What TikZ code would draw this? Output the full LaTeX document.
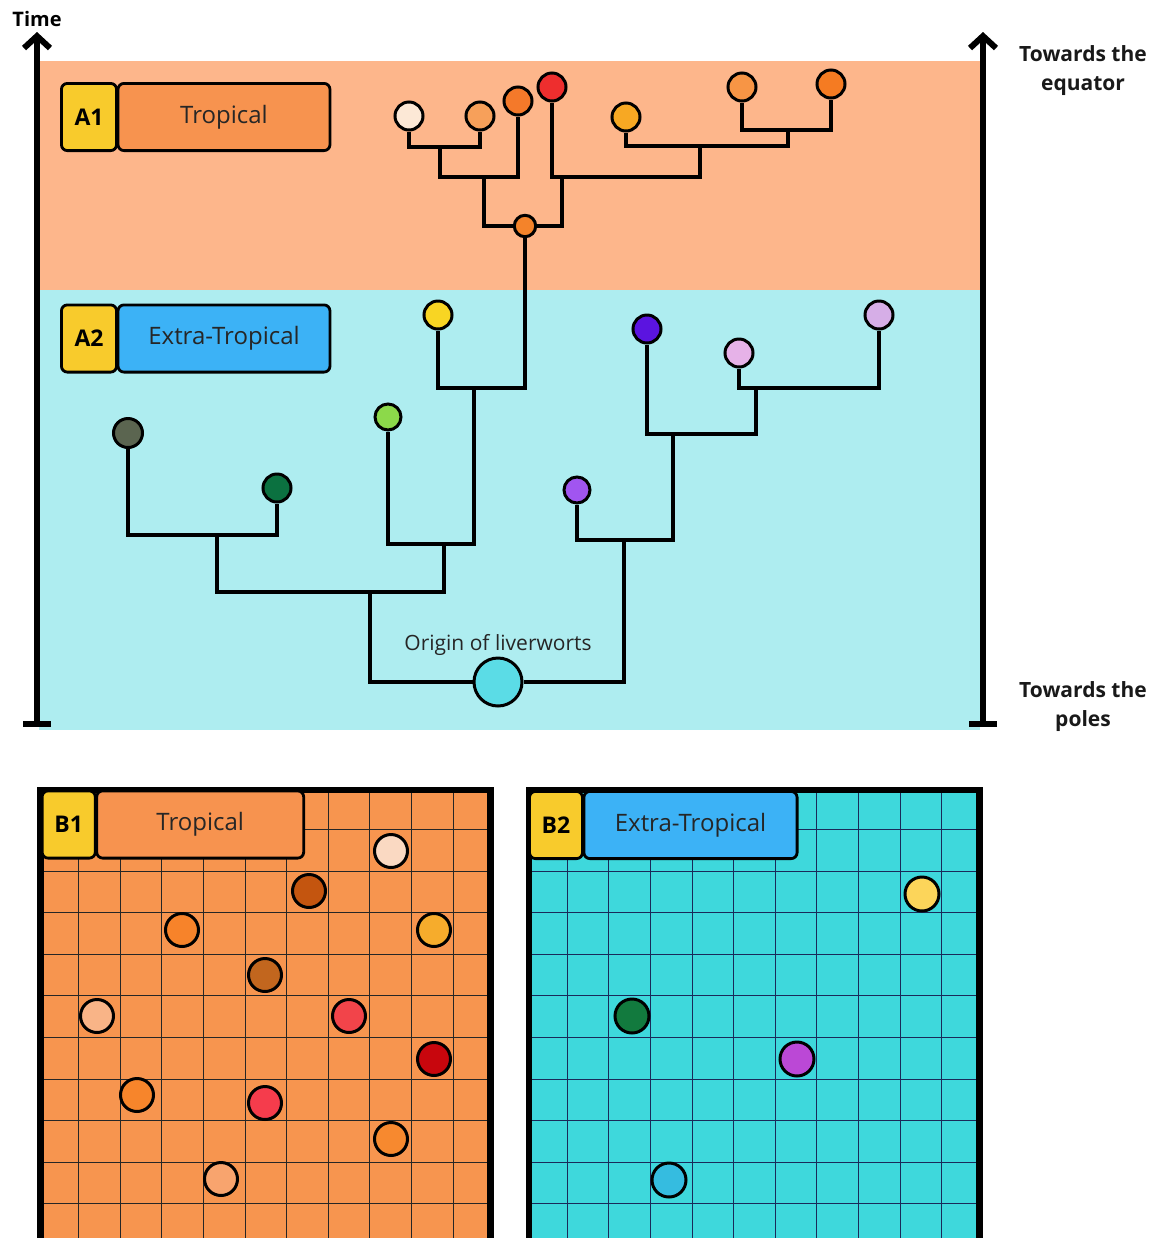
\documentclass[tikz,border=0pt]{standalone}
\usepackage{fontspec}
\setmainfont{Open Sans}
\usetikzlibrary{arrows.meta, positioning}

\definecolor{bandtrop}{HTML}{FDB68B}
\definecolor{bandextra}{HTML}{AEEDF0}
\definecolor{tagyellow}{HTML}{F8CB2C}
\definecolor{tagorange}{HTML}{F7934F}
\definecolor{tagblue}{HTML}{3CB2F6}
\definecolor{gridorange}{HTML}{F7954F}
\definecolor{gridcyan}{HTML}{3ED8DC}
\definecolor{gridnavy}{HTML}{1A2A5A}

\tikzset{
  leaf/.style={circle, draw=black, line width=1.5pt, inner sep=0pt, minimum size=14pt},
  branch/.style={line width=1.6pt, black},
  axis/.style={line width=3pt, {Bar[width=14pt]}-{Straight Barb[length=6pt,width=13pt]}},
  tagkey/.style={draw, line width=1.4pt, rounded corners=3pt, fill=tagyellow, font=\bfseries\fontsize{11.5}{14}\selectfont, minimum width=27.6pt, minimum height=33.6pt, inner sep=0pt},
  tagname/.style={draw, line width=1.4pt, rounded corners=3pt, font=\fontsize{12}{14}\selectfont, text=black!85, minimum height=33.6pt, inner sep=0pt, anchor=west, xshift=-0.7pt},
  gridline/.style={line width=0.5pt},
  frame/.style={line width=3.3pt, black},
  sidelabel/.style={font=\bfseries\fontsize{10.5}{14.5}\selectfont, align=center, text=black!90}
}

\begin{document}
\begin{tikzpicture}[x=0.5pt, y=-0.5pt]
  \useasboundingbox (0,0) rectangle (1158,1238);

  % bands %
  \fill[bandtrop] (39,61) rectangle (980,290);
  \fill[bandextra] (39,290) rectangle (980,730);

  % axes %
  \coordinate (tbot) at (37,727);
  \coordinate (ttop) at (37,32);
  \coordinate (lbot) at (983,727);
  \coordinate (ltop) at (983,32);
  \draw[axis] (tbot) -- (ttop);
  \draw[axis] (lbot) -- (ltop);
  \node[font=\bfseries\fontsize{10}{12}\selectfont] (time) at (37,19) {Time};
  \node[sidelabel] (equator) at (1083,71) {Towards the\\equator};
  \node[sidelabel] (poles) at (1083,707) {Towards the\\poles};

  % tags %
  \node[tagkey] (A1key) at (89,117) {A1};
  \node[tagname, fill=tagorange, minimum width=106pt] (A1name) at (A1key.east) {Tropical};
  \node[tagkey] (A2key) at (89,338.5) {A2};
  \node[tagname, fill=tagblue, minimum width=106pt] (A2name) at (A2key.east) {Extra-Tropical};

  % tropical tree %
  \node[leaf, fill={rgb,255:red,252;green,232;blue,214}] (a1) at (409,116) {};
  \node[leaf, fill={rgb,255:red,247;green,160;blue,90}] (a2) at (480,116) {};
  \node[leaf, fill={rgb,255:red,244;green,121;blue,42}] (a3) at (518,101) {};
  \node[leaf, fill={rgb,255:red,238;green,46;blue,46}] (a4) at (552,87) {};
  \node[leaf, fill={rgb,255:red,247;green,168;blue,35}] (a5) at (626,117) {};
  \node[leaf, fill={rgb,255:red,247;green,149;blue,69}] (a6) at (742,87) {};
  \node[leaf, fill={rgb,255:red,245;green,123;blue,34}] (a7) at (831,84) {};
  \node[leaf, minimum size=10.7pt, fill={rgb,255:red,244;green,131;blue,42}] (n0) at (525,226) {};
  \coordinate (j1) at (440,147);
  \coordinate (j2) at (484,177);
  \coordinate (j3) at (700,146);
  \coordinate (j4) at (562,177);
  \coordinate (j5) at (788,130);

  % extra-tropical tree %
  \node[leaf, fill={rgb,255:red,248;green,213;blue,35}] (b1) at (438,315) {};
  \node[leaf, minimum size=13pt, fill={rgb,255:red,140;green,217;blue,74}] (b2) at (388,417) {};
  \node[leaf, minimum size=14.5pt, fill={rgb,255:red,91;green,101;blue,80}] (b3) at (128,433) {};
  \node[leaf, fill={rgb,255:red,11;green,113;blue,64}] (b4) at (277,488) {};
  \node[leaf, minimum size=13pt, fill={rgb,255:red,161;green,85;blue,240}] (b5) at (577,490) {};
  \node[leaf, fill={rgb,255:red,91;green,20;blue,224}] (b6) at (647,329) {};
  \node[leaf, fill={rgb,255:red,230;green,178;blue,232}] (b7) at (739,353) {};
  \node[leaf, fill={rgb,255:red,214;green,174;blue,231}] (b8) at (879,315) {};
  \node[leaf, minimum size=24pt, fill={rgb,255:red,91;green,220;blue,230}] (r) at (498,682) {};
  \node[above=-3pt of r, font=\fontsize{10.5}{12}\selectfont, text=black!85] (origin) {Origin of liverworts};
  \coordinate (k1) at (474,388);
  \coordinate (k2) at (444,544);
  \coordinate (k3) at (217,535);
  \coordinate (k4) at (370,592);
  \coordinate (m1) at (624,540);
  \coordinate (m2) at (673,434);
  \coordinate (m3) at (756,388);

  % edges %
  \draw[branch] (a1) |- (j1) -| (a2);
  \draw[branch] (j1) |- (j2) -| (a3);
  \draw[branch] (j2) |- (n0) -| (j4);
  \draw[branch] (a4) |- (j4) -| (j3);
  \draw[branch] (a5) |- (j3) -| (j5);
  \draw[branch] (a6) |- (j5) -| (a7);
  \draw[branch] (n0) |- (k1) -| (b1);
  \draw[branch] (k1) |- (k2) -| (b2);
  \draw[branch] (k2) |- (k4) -| (k3);
  \draw[branch] (b3) |- (k3) -| (b4);
  \draw[branch] (k4) |- (r) -| (m1);
  \draw[branch] (b5) |- (m1) -| (m2);
  \draw[branch] (b6) |- (m2) -| (m3);
  \draw[branch] (b7) |- (m3) -| (b8);

  % panel B1 %
  \fill[gridorange] (40.5,790) rectangle (490.5,1245);
  \foreach \i in {1,...,10}
    \draw[gridline, black!85] ({37.1+41.6*\i},790) -- ({37.1+41.6*\i},1245);
  \foreach \j in {1,...,10}
    \draw[gridline, black!85] (40.5,{787.9+41.6*\j}) -- (490.5,{787.9+41.6*\j});
  \draw[frame] (40.5,1245) -- (40.5,790) -- (490.5,790) -- (490.5,1245);
  \node[tagkey, minimum width=26.6pt] (B1key) at (68.7,824.5) {B1};
  \node[tagname, fill=tagorange, minimum width=103.5pt] (B1name) at (B1key.east) {Tropical};
  \node[leaf, minimum size=16.5pt, fill={rgb,255:red,250;green,217;blue,194}] (t1) at (391,851) {};
  \node[leaf, minimum size=16.5pt, fill={rgb,255:red,196;green,85;blue,15}] (t2) at (309,891) {};
  \node[leaf, minimum size=16.5pt, fill={rgb,255:red,247;green,131;blue,42}] (t3) at (182,930) {};
  \node[leaf, minimum size=16.5pt, fill={rgb,255:red,246;green,172;blue,44}] (t4) at (434,930) {};
  \node[leaf, minimum size=16.5pt, fill={rgb,255:red,194;green,102;blue,30}] (t5) at (265,975) {};
  \node[leaf, minimum size=16.5pt, fill={rgb,255:red,249;green,180;blue,135}] (t6) at (97,1016) {};
  \node[leaf, minimum size=16.5pt, fill={rgb,255:red,242;green,68;blue,74}] (t7) at (349,1016) {};
  \node[leaf, minimum size=16.5pt, fill={rgb,255:red,200;green,6;blue,13}] (t8) at (434,1059) {};
  \node[leaf, minimum size=16.5pt, fill={rgb,255:red,247;green,133;blue,43}] (t9) at (137,1095) {};
  \node[leaf, minimum size=16.5pt, fill={rgb,255:red,245;green,60;blue,76}] (t10) at (265,1103) {};
  \node[leaf, minimum size=16.5pt, fill={rgb,255:red,247;green,137;blue,47}] (t11) at (391,1139) {};
  \node[leaf, minimum size=16.5pt, fill={rgb,255:red,248;green,164;blue,110}] (t12) at (221,1179) {};

  % panel B2 %
  \fill[gridcyan] (529,790) rectangle (979.3,1245);
  \foreach \i in {1,...,10}
    \draw[gridline, gridnavy] ({525.7+41.6*\i},790) -- ({525.7+41.6*\i},1245);
  \foreach \j in {1,...,10}
    \draw[gridline, gridnavy] (529,{787.9+41.6*\j}) -- (979.3,{787.9+41.6*\j});
  \draw[frame] (529,1245) -- (529,790) -- (979.3,790) -- (979.3,1245);
  \node[tagkey, minimum width=26.5pt] (B2key) at (556,825) {B2};
  \node[tagname, fill=tagblue, minimum width=106.6pt] (B2name) at (B2key.east) {Extra-Tropical};
  \node[leaf, minimum size=17pt, fill={rgb,255:red,252;green,213;blue,90}] (u1) at (922,894) {};
  \node[leaf, minimum size=17pt, fill={rgb,255:red,18;green,122;blue,62}] (u2) at (632,1016) {};
  \node[leaf, minimum size=17pt, fill={rgb,255:red,187;green,72;blue,214}] (u3) at (797,1059) {};
  \node[leaf, minimum size=17pt, fill={rgb,255:red,53;green,188;blue,224}] (u4) at (669,1180) {};
\end{tikzpicture}
\end{document}
